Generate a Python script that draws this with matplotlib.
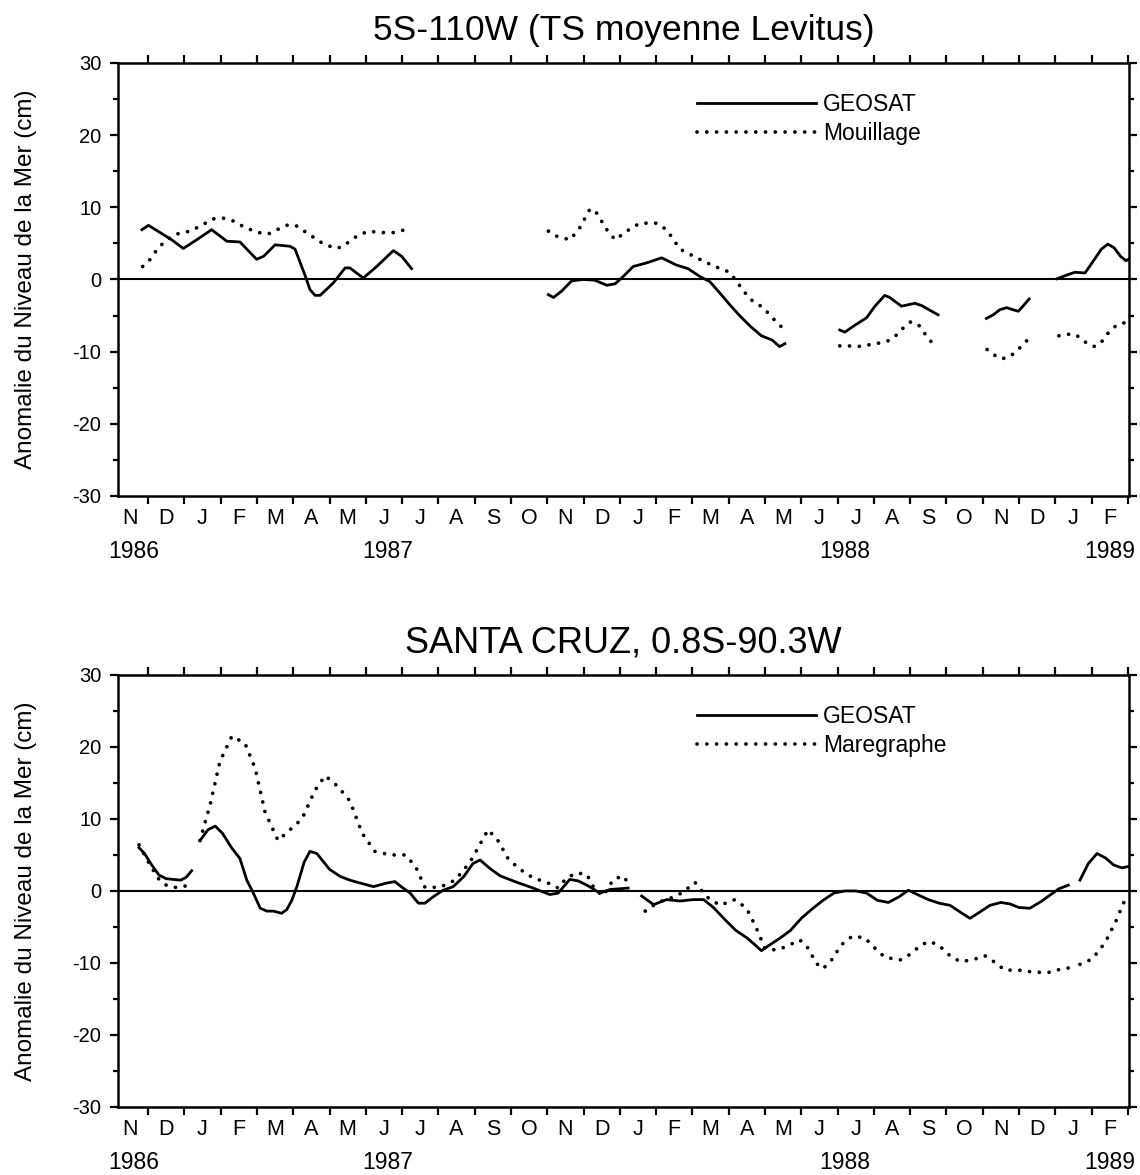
import numpy as np
import matplotlib.pyplot as plt

plt.rcParams['font.family'] = ['Liberation Sans', 'DejaVu Sans']
plt.rcParams['axes.unicode_minus'] = False

#%% --- Données (x = mois écoulés depuis le 1er novembre 1986) ---
nan = np.nan

mois = ['N', 'D', 'J', 'F', 'M', 'A', 'M', 'J', 'J', 'A', 'S', 'O',
        'N', 'D', 'J', 'F', 'M', 'A', 'M', 'J', 'J', 'A', 'S', 'O',
        'N', 'D', 'J', 'F']
annees = ['1986', '1987', '1988', '1989']
annees_x = [0.61, 7.61, 20.2, 27.5]

# 5S-110W : GEOSAT
geo1_x = [0.83, 1.01, 1.33, 1.65, 1.97, 2.34, 2.75, 3.17, 3.53, 3.99, 4.18, 4.5, 4.91, 5.05,
          5.33, 5.46, 5.6, 5.74, 6.1, 6.43, 6.56, 6.93, 7.3, 7.76, 7.99, 8.26, nan,
          12.03, 12.17, 12.4, 12.67, 12.99, 13.31, 13.64, 13.87, 14.09, 14.37, 14.74, 15.15,
          15.56, 15.88, 16.21, 16.48, 16.76, 17.03, 17.3, 17.6, 17.9, 18.2, 18.4, 18.55, nan,
          20.06, 20.2, 20.43, 20.8, 21.03, 21.3, 21.44, 21.76, 22.13, 22.31, 22.77, nan,
          24.1, 24.29, 24.47, 24.66, 24.84, 24.98, 25.11, 25.28, nan,
          26.05, 26.31, 26.54, 26.82, 27.04, 27.27, 27.45, 27.62, 27.8, 27.95, 28.02]
geo1_y = [6.9, 7.5, 6.5, 5.5, 4.3, 5.5, 6.9, 5.3, 5.2, 2.8, 3.2, 4.8, 4.6, 4.2,
          0.5, -1.4, -2.2, -2.2, -0.5, 1.6, 1.6, 0.2, 1.8, 4.0, 3.2, 1.5, nan,
          -2.1, -2.5, -1.6, -0.2, 0.0, -0.1, -0.8, -0.6, 0.4, 1.8, 2.3, 3.0,
          2.0, 1.5, 0.4, -0.3, -1.9, -3.5, -5.0, -6.5, -7.8, -8.4, -9.3, -8.9, nan,
          -7.0, -7.3, -6.5, -5.3, -3.7, -2.2, -2.5, -3.7, -3.3, -3.6, -4.9, nan,
          -5.4, -4.9, -4.2, -3.9, -4.2, -4.4, -3.7, -2.7, nan,
          0.1, 0.6, 1.0, 0.9, 2.5, 4.2, 4.9, 4.4, 3.2, 2.6, 2.8]

# 5S-110W : Mouillage
mou_x = [0.85, 1.06, 1.28, 1.52, 1.79, 2.16, 2.43, 2.8, 3.07, 3.35, 3.67, 4.04, 4.31, 4.64,
         4.87, 5.1, 5.42, 5.78, 6.15, 6.34, 6.75, 7.07, 7.39, 7.76, 8.26, nan,
         12.03, 12.26, 12.63, 12.9, 13.18, 13.36, 13.64, 13.87, 14.19, 14.55, 15.01, 15.29,
         15.66, 16.12, 16.57, 17.03, 17.31, 17.58, 17.95, 18.2, 18.5, nan,
         20.06, 20.29, 20.52, 20.75, 20.98, 21.17, 21.39, 21.58, 21.72, 21.85, 22.01, 22.22,
         22.35, 22.49, 22.63, nan,
         24.12, 24.33, 24.52, 24.75, 24.98, 25.21, nan,
         26.1, 26.31, 26.54, 26.72, 26.88, 27.09, 27.27, 27.39, 27.55, 27.73, 27.91, 28.02]
mou_y = [1.8, 2.8, 4.4, 5.5, 6.3, 6.7, 7.4, 8.4, 8.5, 8.1, 7.2, 6.5, 6.3, 7.1,
         7.6, 7.4, 6.3, 5.1, 4.3, 4.5, 6.0, 6.7, 6.5, 6.5, 7.1, nan,
         6.7, 6.0, 5.5, 7.2, 9.8, 9.2, 6.9, 5.5, 6.7, 7.8, 7.8, 6.9,
         4.2, 3.0, 1.9, 1.0, -0.9, -2.7, -3.9, -5.3, -6.8, nan,
         -9.2, -9.2, -9.3, -9.2, -8.9, -8.8, -8.5, -7.9, -7.2, -6.5, -5.9, -6.2,
         -7.1, -8.1, -8.9, nan,
         -9.7, -10.5, -11.0, -10.7, -9.7, -8.5, nan,
         -7.8, -7.6, -7.6, -8.2, -8.9, -9.3, -8.7, -7.8, -6.9, -6.2, -6.0, -6.0]

# Santa Cruz : GEOSAT
geo2_x = [0.75, 0.9, 1.1, 1.3, 1.5, 1.7, 1.9, 2.05, 2.2, nan,
          2.43, 2.65, 2.85, 3.05, 3.3, 3.53, 3.72, 3.9, 4.09, 4.27, 4.45, 4.68, 4.82, 4.96,
          5.1, 5.3, 5.46, 5.65, 6.0, 6.3, 6.56, 6.84, 7.21, 7.58, 7.8, 8.0, 8.22, 8.45,
          8.63, 8.86, 9.13, 9.41, 9.7, 9.95, 10.15, 10.4, 10.7, 11.16, 11.61, 12.07, 12.3,
          12.62, 12.85, 13.13, 13.45, 13.73, 14.0, 14.23, nan,
          14.6, 14.93, 15.29, 15.66, 16.03, 16.31, 16.58, 16.9, 17.2, 17.5, 17.75, 17.9,
          18.1, 18.4, 18.7, 19.0, 19.3, 19.6, 19.9, 20.2, 20.5, 20.8, 21.1, 21.4, 21.7,
          21.95, 22.2, 22.5, 22.8, 23.1, 23.4, 23.65, 23.9, 24.2, 24.5, 24.75, 25.0, 25.3,
          25.6, 25.85, 26.1, 26.36, nan,
          26.68, 26.91, 27.15, 27.38, 27.61, 27.84, 28.02]
geo2_y = [6.0, 5.2, 3.6, 2.2, 1.7, 1.6, 1.5, 1.9, 2.8, nan,
          7.0, 8.5, 9.0, 8.0, 6.0, 4.5, 1.5, -0.3, -2.4, -2.8, -2.8, -3.1, -2.6, -1.3,
          0.6, 4.0, 5.5, 5.2, 3.0, 2.0, 1.5, 1.1, 0.6, 1.1, 1.3, 0.5, -0.3, -1.7,
          -1.7, -0.8, 0.1, 0.6, 2.0, 3.8, 4.3, 3.2, 2.1, 1.2, 0.4, -0.5, -0.3,
          1.6, 1.4, 0.7, -0.3, 0.2, 0.3, 0.4, nan,
          -0.7, -1.9, -1.2, -1.4, -1.2, -1.2, -2.3, -4.0, -5.5, -6.5, -7.6, -8.3,
          -7.6, -6.6, -5.5, -3.8, -2.5, -1.3, -0.3, 0.0, 0.0, -0.3, -1.3, -1.6, -0.8,
          0.1, -0.5, -1.2, -1.7, -2.0, -3.0, -3.8, -3.0, -2.0, -1.6, -1.8, -2.3, -2.4,
          -1.5, -0.6, 0.3, 0.8, nan,
          1.5, 3.8, 5.2, 4.6, 3.6, 3.2, 3.4]

# Santa Cruz : Marégraphe
mar_x = [0.75, 0.9, 1.1, 1.3, 1.5, 1.7, 1.9, 2.1, nan,
         2.43, 2.71, 2.98, 3.31, 3.67, 3.95, 4.22, 4.58, 4.91, 5.24, 5.6, 5.88, 6.23, 6.56,
         6.9, 7.25, 7.67, 8.08, 8.36, 8.63, 9.04, 9.46, 9.87, 10.37, 10.64, 10.93, 11.25,
         11.61, 11.98, 12.3, 12.53, 12.81, 13.09, 13.31, 13.54, 13.82, 14.09, 14.23, nan,
         14.7, 14.83, 15.1, 15.4, 15.7, 15.88, 16.07, 16.39, 16.76, 17.17, 17.49, 17.75,
         18.0, 18.3, 18.55, 18.96, 19.2, 19.4, 19.6, 19.85, 20.1, 20.4, 20.75, 21.0, 21.3,
         21.72, 22.0, 22.3, 22.54, 22.8, 23.1, 23.37, 23.7, 24.06, 24.3, 24.61, 25.0, 25.44,
         25.85, 26.12, 26.36, nan,
         26.68, 27.0, 27.24, 27.42, 27.56, 27.7, 27.84, 27.93, 28.0]
mar_y = [6.4, 5.0, 3.2, 1.6, 0.8, 0.5, 0.5, 0.8, nan,
         7.0, 12.0, 18.0, 21.5, 20.5, 17.0, 11.0, 7.0, 8.5, 10.0, 14.0, 16.0, 14.5, 12.5,
         8.0, 5.5, 5.0, 5.0, 3.5, 0.5, 0.5, 1.5, 4.0, 8.5, 7.0, 4.4, 3.0,
         1.8, 1.2, 0.4, 1.8, 2.5, 2.3, 0.2, -0.7, 1.6, 2.1, 1.1, nan,
         -2.8, -2.3, -1.5, -1.0, -0.3, 0.4, 1.2, -0.8, -2.0, -1.2, -2.4, -5.0,
         -8.0, -8.2, -7.8, -6.8, -8.0, -10.0, -10.8, -9.5, -7.5, -6.3, -6.5, -7.8, -9.2,
         -9.6, -8.8, -7.5, -7.0, -7.6, -9.0, -9.8, -9.6, -9.0, -9.8, -11.0, -11.0, -11.3,
         -11.3, -10.9, -10.7, nan,
         -10.2, -9.5, -8.1, -6.7, -5.3, -3.9, -2.1, -1.2, -0.8]

#%% --- Style commun ---
POINTILLE = (0, (0.01, 2.6))


def panneau(ax, titre, taille_titre, x1, y1, x2, y2, nom2):
    ax.axhline(0, color='black', lw=1.5, zorder=1)
    ax.plot(x1, y1, color='black', lw=2.0, label='GEOSAT')
    ax.plot(x2, y2, color='black', lw=2.7, linestyle=POINTILLE,
            dash_capstyle='round', label=nom2)

    ax.set_xlim(0.17, 28.03)
    ax.set_ylim(-30, 30)

    # mois : étiquettes au centre, tirets aux limites
    ax.set_xticks(np.arange(len(mois)) + 0.5)
    ax.set_xticklabels(mois, fontsize=15.5)
    ax.set_xticks(np.arange(1, 29), minor=True)
    ax.tick_params(axis='x', which='major', length=0, pad=9)
    ax.tick_params(axis='x', which='minor', direction='out', length=6,
                   width=1.6, top=True, bottom=True)

    ax.set_yticks(np.arange(-30, 31, 10))
    ax.set_yticks(np.arange(-25, 30, 10), minor=True)
    ax.tick_params(axis='y', which='major', direction='out', length=6,
                   width=1.6, labelsize=14.5, left=True, right=True, pad=6)
    ax.tick_params(axis='y', which='minor', direction='out', length=3.5,
                   width=1.6, left=True, right=True)

    for s in ax.spines.values():
        s.set_linewidth(1.8)

    for a, xa in zip(annees, annees_x):
        ax.annotate(a, xy=(xa, 0), xycoords=('data', 'axes fraction'),
                    xytext=(0, -40), textcoords='offset points',
                    ha='center', va='center', fontsize=16.5)

    ax.text(0.5, 1.075, titre, transform=ax.transAxes, ha='center',
            va='center', fontsize=taille_titre)
    ax.text(-0.0905, 0.5, 'Anomalie du Niveau de la Mer (cm)', transform=ax.transAxes,
            rotation=90, ha='center', va='center', fontsize=17.5)

    ax.legend(loc='upper left', bbox_to_anchor=(0.5727, 0.93), frameon=False,
              fontsize=16.5, handlelength=5.2, handletextpad=0.3,
              labelspacing=0.25, borderpad=0, borderaxespad=0)


#%% --- Figure ---
fig = plt.figure(figsize=(11.4, 11.75), dpi=100)
ax1 = fig.add_axes([0.1035, 0.5779, 0.8868, 0.3685])
ax2 = fig.add_axes([0.1035, 0.0579, 0.8868, 0.3677])

panneau(ax1, '5S-110W (TS moyenne Levitus)', 25.5, geo1_x, geo1_y, mou_x, mou_y, 'Mouillage')
panneau(ax2, 'SANTA CRUZ, 0.8S-90.3W', 26, geo2_x, geo2_y, mar_x, mar_y, 'Maregraphe')

fig.savefig('out.png', dpi=100)
